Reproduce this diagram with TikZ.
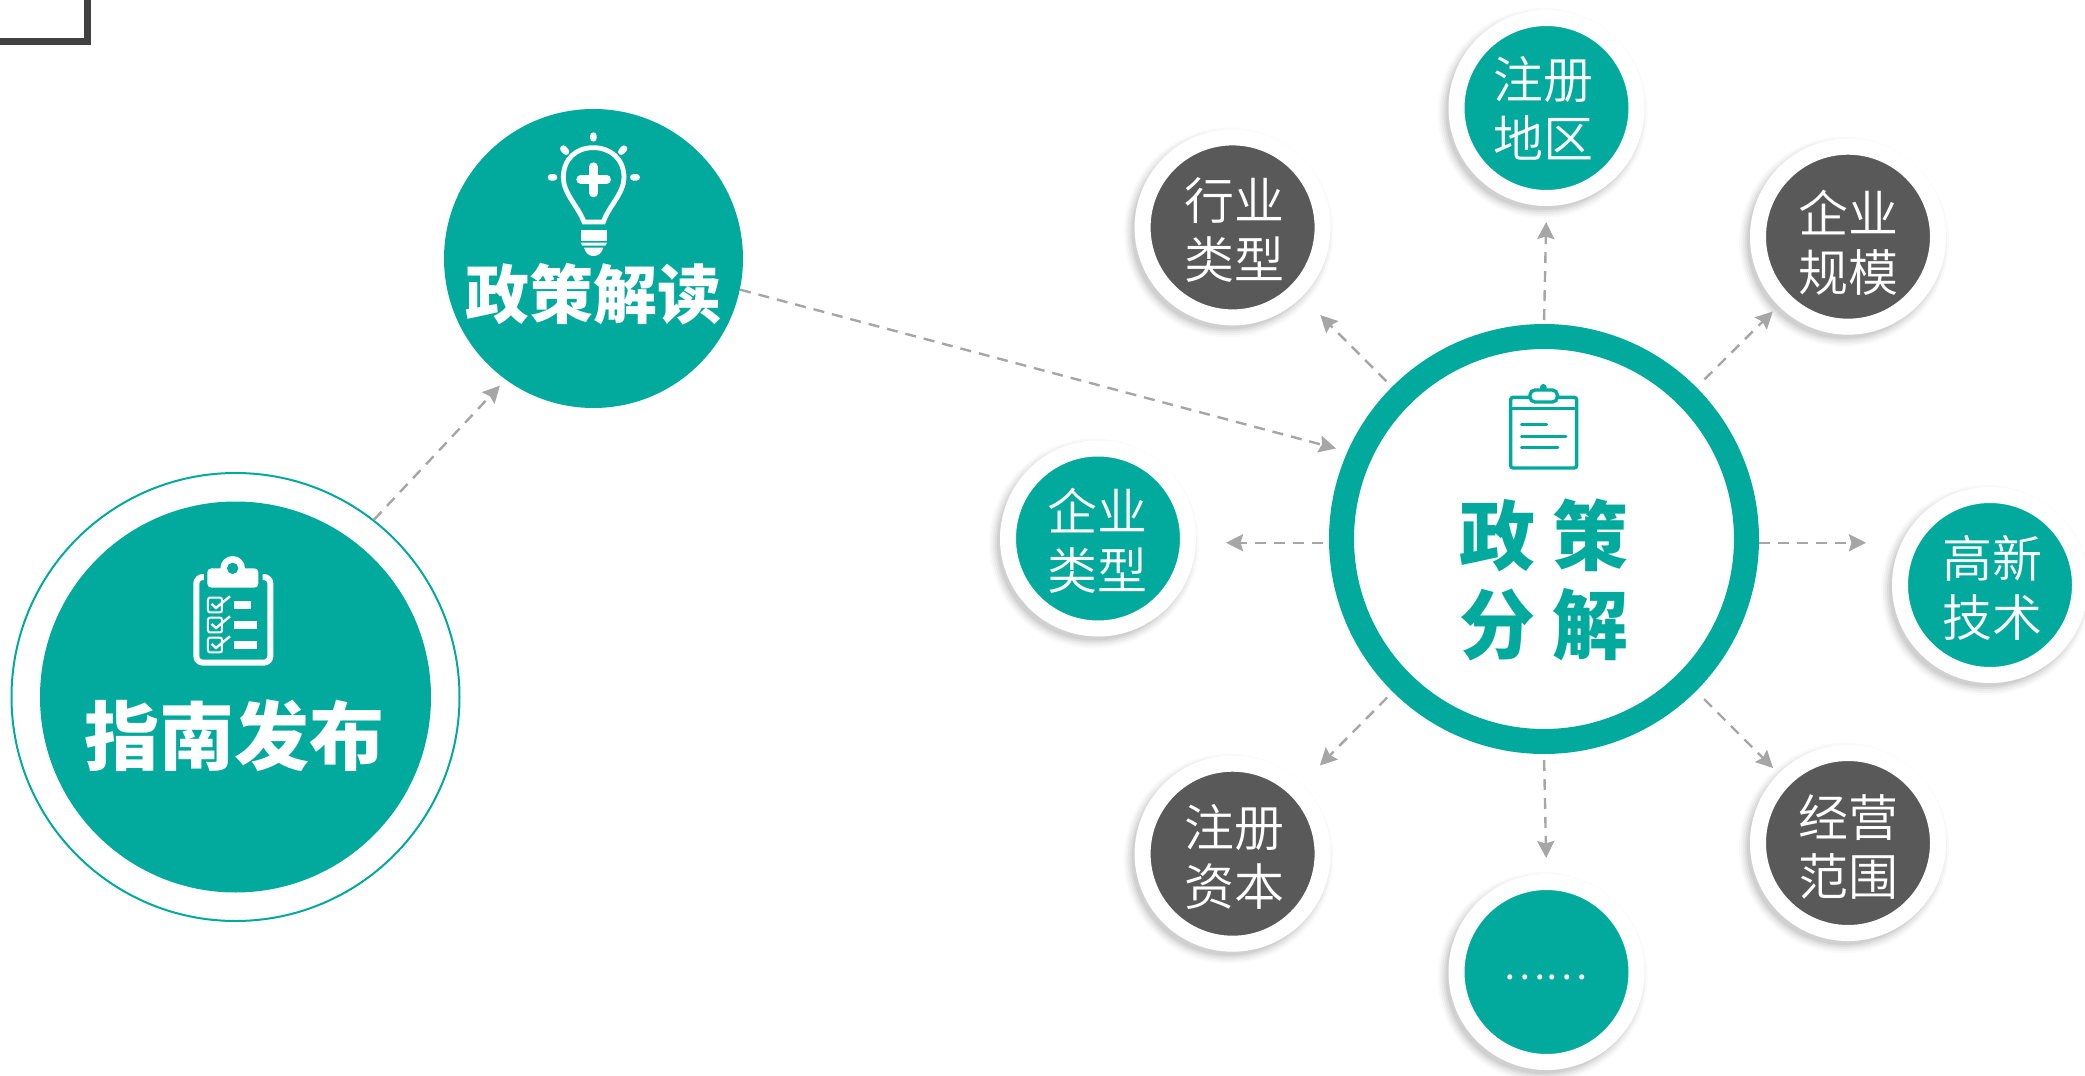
\documentclass[tikz,border=0pt]{standalone}
\usepackage{fontspec}
\usetikzlibrary{arrows.meta}
\newfontfamily\cjklight{Noto Sans CJK SC DemiLight}
\newfontfamily\cjkblack{Noto Sans CJK SC Black}
\definecolor{teal1}{HTML}{02AA9D}
\definecolor{dark1}{HTML}{595959}
\definecolor{arrow1}{HTML}{A6A6A6}
\definecolor{frame1}{HTML}{404040}
\tikzset{
  leaf/.style={circle,draw=white,line width=8pt,minimum size=90pt,inner sep=0pt},
  leaftext/.style={inner sep=0pt,text=white,align=center,font=\cjklight\fontsize{25pt}{29.5pt}\selectfont},
  conn/.style={draw=arrow1,line width=1.2pt,dash pattern=on 5.5pt off 4pt,
    -{Stealth[length=8.5pt,width=8.5pt,inset=1.2pt]}},
  headtext/.style={text=white,font=\cjkblack\fontsize{37.5pt}{42pt}\selectfont,inner sep=0pt},
}
\newcommand{\leafnode}[7]{%
  \foreach \rr/\oo in {105/.02,103/.03,101/.04,99/.05,97/.06}{%
    \fill[black,opacity=\oo] (#2-4,#3+5) circle[radius=\rr];}
  \node[leaf,fill=#4] (#1) at (#2,#3) {};
  \node[leaftext] (#1text) at (#2+#6,#3+#7) {#5};}
\begin{document}
\begin{tikzpicture}[x=0.5pt,y=-0.5pt]
\useasboundingbox (0,0) rectangle (2085,1076);
\clip (0,0) rectangle (2085,1076);
% corner frame
\draw[frame1,line width=3.5pt] (-20,-20) rectangle (87.5,41.5);
% left circle
\node[circle,draw=teal1,line width=1pt,fill=white,minimum size=224pt,inner sep=0pt] (fabu) at (235.5,697) {};
\node[circle,fill=teal1,minimum size=195.5pt,inner sep=0pt] (fabuin) at (235.5,697) {};
\node[headtext] (fabutext) at (234,736) {指南发布};
\begin{scope}[shift={(0,460)},scale=1/3,white]
  \draw[line width=3pt,rounded corners=3.3pt] (612,351) -- (589,351) -- (589,608) -- (811,608) -- (811,351) -- (788,351);
  \fill[rounded corners=2pt] (622,325) rectangle (775,383);
  \fill (698,325) circle[radius=37];
  \fill[teal1] (698,325) circle[radius=17];
  \foreach \yy/\xe in {435/752,495/772,555/772}{
    \draw[line width=1pt,rounded corners=1pt] (624,\yy-22) rectangle (666,\yy+22);
    \draw[line width=1.2pt] (635,\yy-3) -- (648,\yy+9) -- (690,\yy-26);
    \fill (702,\yy-11) rectangle (\xe,\yy+11);
  }
\end{scope}
% reading circle
\node[circle,fill=teal1,minimum size=149.5pt,inner sep=0pt] (jd) at (593.5,258.5) {};
\node[text=white,font=\cjkblack\fontsize{32pt}{38pt}\selectfont,inner sep=0pt] (jdtext) at (593,294) {政策解读};
\begin{scope}[shift={(430,100)},scale=1/3,white]
  \draw[line width=2.4pt] (462,366) -- (520,366) .. controls (535,320) and (582,280) .. (582,233) .. controls (582,175) and (540,143) .. (490,143) .. controls (440,143) and (400,175) .. (400,233) .. controls (400,280) and (445,320) .. (462,366) -- cycle;
  \draw[line width=4.3pt,line cap=round] (452,238) -- (530,238) (490,200) -- (490,279);
  \draw[line width=3.3pt,line cap=round] (490,107) -- (490,115) (400,146) -- (408,155) (582,146) -- (574,155) (363,232) -- (372,232) (610,232) -- (620,232);
  \fill (452,390) -- (531,390) -- (531,422) -- (452,422) -- cycle;
  \fill (452,428) -- (531,428) -- (526,437) -- (457,437) -- cycle;
  \fill (462,443) -- (520,443) .. controls (515,460) and (505,468) .. (490,468) .. controls (477,468) and (467,460) .. (462,443) -- cycle;
\end{scope}
% hub
\node[circle,draw=teal1,fill=white,line width=12.5pt,minimum size=202.5pt,inner sep=0pt] (hub) at (1544,539) {};
\node[text=teal1,align=center,inner sep=0pt,font=\cjkblack\fontsize{38pt}{44.5pt}\selectfont] (hubtext) at (1544,580) {\spaceskip=8.75pt\relax 政 策\\分 解};
\begin{scope}[shift={(1300,310)},scale=1/3,teal1]
  \draw[line width=1.7pt,rounded corners=1.2pt] (632,262) rectangle (830,474);
  \draw[line width=1.2pt] (632,296) -- (830,296);
  \fill (730,232) circle[radius=10];
  \draw[line width=1.7pt,fill=white,rounded corners=2.5pt] (690,240) rectangle (772,276);
  \draw[line width=1.3pt,line cap=round] (664,344) -- (740,344) (664,379) -- (798,379) (664,413) -- (774,413);
\end{scope}
% leaves
\leafnode{hangye}{1232.6}{227.4}{dark1}{行业\\类型}{2}{3}
\leafnode{diqu}{1546.5}{108}{teal1}{注册\\地区}{-3.5}{0}
\leafnode{guimo}{1848}{236.7}{dark1}{企业\\规模}{0}{6}
\leafnode{qiye}{1098}{538.5}{teal1}{企业\\类型}{-1}{2}
\leafnode{gaoxin}{1990}{585}{teal1}{高新\\技术}{2}{3}
\leafnode{ziben}{1232.6}{853.7}{dark1}{注册\\资本}{1.5}{3}
\leafnode{fanwei}{1848}{843}{dark1}{经营\\范围}{0}{4}
\leafnode{more}{1546.5}{972}{teal1}{\fontsize{20pt}{24pt}\selectfont\raisebox{-1.5pt}{……}}{-1}{5}
% connectors
\draw[conn,shorten >=4pt] (fabu.52.6) -- (jd.234);
\draw[conn,shorten >=6pt] (jd.-12.7) -- (hub.156.1);
\draw[conn,shorten <=4pt,shorten >=13pt] (hub) -- (hangye);
\draw[conn,shorten <=2pt,shorten >=8pt] (hub.90) -- (diqu.270);
\draw[conn,shorten <=5.7pt,shorten >=4pt] (hub) -- (guimo);
\draw[conn,shorten <=3pt,shorten >=15pt] (hub.181) -- (hub.181 -| qiye.east);
\draw[conn,shorten <=0pt,shorten >=13pt] (hub.-1) -- (hub.-1 -| gaoxin.west);
\draw[conn,shorten <=4pt,shorten >=13pt] (hub) -- (ziben);
\draw[conn,shorten <=3pt,shorten >=8pt] (hub.270) -- (more.90);
\draw[conn,shorten <=5.7pt,shorten >=4pt] (hub) -- (fanwei);
\end{tikzpicture}
\end{document}
